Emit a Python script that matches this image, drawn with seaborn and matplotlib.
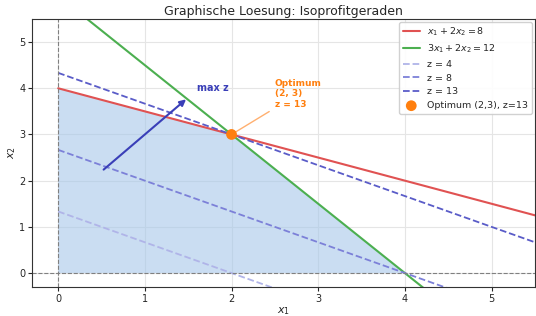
import numpy as np
import pandas as pd
import matplotlib.pyplot as plt
import seaborn as sns

# Data
x1_vals = [0, 5.5]
region_x1 = [0, 0, 2, 4]
region_x2 = [0, 4, 3, 0]
z_levels = [4, 8, 13]
z_colors = ['#b0b4e8', '#7c80d8', '#5a5cc8']
opt_x1 = [2]
opt_x2 = [3]

sns.set_style("white")
plt.rcParams.update({'font.size': 7})

fig, ax = plt.subplots(figsize=(5.36, 3.16), dpi=100)

x = np.array(x1_vals)
lines = pd.DataFrame({
    'x1': np.concatenate([x, x]),
    'x2': np.concatenate([(8 - x) / 2, (12 - 3 * x) / 2]),
    'name': ['$x_1 + 2x_2 = 8$'] * 2 + ['$3x_1 + 2x_2 = 12$'] * 2,
})

ax.fill(region_x1, region_x2, color='#a7c7ea', alpha=0.6, lw=0)
sns.lineplot(data=lines, x='x1', y='x2', hue='name',
             palette=['#e05252', '#4caf50'], linewidth=1.5, ax=ax)

for z, c in zip(z_levels, z_colors):
    sns.lineplot(x=x, y=(z - 2 * x) / 3, color=c, linestyle='--',
                 linewidth=1.3, label=f'z = {z}', ax=ax)

sns.scatterplot(x=opt_x1, y=opt_x2, color='#ff7f0e', s=60, zorder=5,
                edgecolor='none', label='Optimum (2,3), z=13', ax=ax)

ax.axhline(0, color='gray', linestyle='--', linewidth=0.8)
ax.axvline(0, color='gray', linestyle='--', linewidth=0.8)

# direction of improvement
ax.annotate('', xy=(1.5, 3.8), xytext=(0.5, 2.2),
            arrowprops=dict(arrowstyle='-|>', color='#3a3fb8', lw=1.5,
                            mutation_scale=9))
ax.text(1.6, 3.95, 'max z', color='#3a3fb8', fontweight='bold', fontsize=7)
ax.annotate('Optimum\n(2, 3)\nz = 13', xy=(2, 3), xytext=(2.5, 3.6),
            color='#ff7f0e', fontweight='bold', fontsize=6.5,
            arrowprops=dict(arrowstyle='-', color='#ffb070', lw=1))

ax.set_xlim(-0.3, 5.5)
ax.set_ylim(-0.3, 5.5)
ax.set_xlabel('$x_1$', fontsize=8, labelpad=1)
ax.set_ylabel('$x_2$', fontsize=8, labelpad=1)
ax.set_title('Graphische Loesung: Isoprofitgeraden', fontsize=9, pad=3)
ax.grid(True, color='#e5e5e5', linewidth=0.8)
for s in ax.spines.values():
    s.set_color('#333333')
ax.tick_params(axis='both', labelsize=7, length=3, pad=2, left=True, bottom=True)
ax.legend(loc='upper right', fontsize=6.8, framealpha=0.9,
          handlelength=1.8, borderaxespad=0.3)

plt.subplots_adjust(left=0.06, right=0.998, top=0.94, bottom=0.092)
plt.savefig('out.png', dpi=100)
